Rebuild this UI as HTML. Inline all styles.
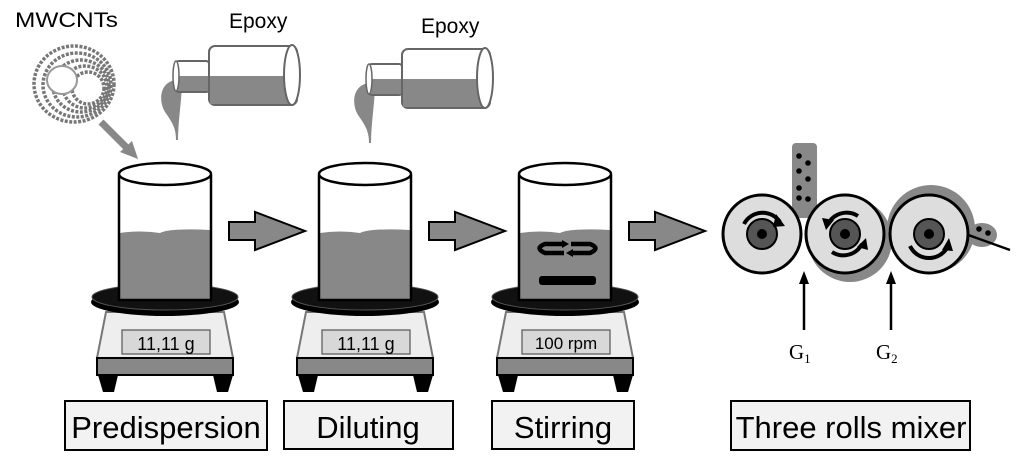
<!DOCTYPE html>
<html><head><meta charset="utf-8"><style>
html,body{margin:0;padding:0;background:#fff;}
svg{display:block;}
.s{font-family:"Liberation Sans","DejaVu Sans",sans-serif;}
.g{font-family:"Liberation Serif","DejaVu Serif",serif;}
</style></head><body>
<svg width="1024" height="463" viewBox="0 0 1024 463" xmlns="http://www.w3.org/2000/svg">
<defs>
<g id="scale">
  <path d="M106,312 L224,312 L233,358 L97,358 Z" fill="#eee" stroke="#777" stroke-width="2"/>
  <rect x="122" y="330" width="88" height="24" fill="#d8d8d8" stroke="#555" stroke-width="1.2"/>
  <rect x="97" y="358" width="136" height="17" fill="#888" stroke="#000" stroke-width="2"/>
  <path d="M98,375 L118,375 L114,392 L103,392 Z" fill="#000"/>
  <path d="M213,375 L233,375 L228,392 L217,392 Z" fill="#000"/>
  <ellipse cx="165" cy="302" rx="74" ry="14" fill="#000"/>
  <ellipse cx="165" cy="297" rx="73" ry="13" fill="#111" stroke="#555" stroke-width="1"/>
</g>
<g id="beaker">
  <path d="M119,175 L119,300 L211,300 L211,175" fill="#fff"/>
  <path d="M120,233 Q140,230 160,233 Q170,228 210,230 L210,300 L120,300 Z" fill="#888"/>
  <path d="M119,175 L119,300 L211,300 L211,175" fill="none" stroke="#000" stroke-width="2.5"/>
  <ellipse cx="165" cy="174" rx="46" ry="11" fill="#fff" stroke="#000" stroke-width="2.5"/>
</g>
<g id="arrow">
  <path d="M229,222 L255,222 L255,212 L305,231 L255,250 L255,240 L229,240 Z" fill="#888" stroke="#000" stroke-width="2"/>
</g>
<g id="bottle">
  <path d="M176,80 C160,82 158,100 165,112 C172,122 176,128 176,140 L178,140 C178,120 182,100 182,80 Z" fill="#888"/>
  <rect x="176" y="61" width="33" height="31" rx="3" fill="#fff" stroke="#666" stroke-width="2"/>
  <rect x="177" y="76" width="31" height="15" fill="#888"/>
  <rect x="209" y="46" width="88" height="59" rx="6" fill="#fff" stroke="#666" stroke-width="2"/>
  <rect x="210" y="76" width="84" height="28" fill="#888"/>
  <ellipse cx="176" cy="76" rx="3" ry="15" fill="#fff" stroke="#666" stroke-width="1.5"/>
  <ellipse cx="292" cy="75" rx="8" ry="30" fill="#fff" stroke="#666" stroke-width="2"/>
</g>
</defs>

<text class="s" x="15" y="27" font-size="21" textLength="103" lengthAdjust="spacingAndGlyphs">MWCNTs</text>
<g fill="none" stroke="#777" stroke-width="3.5" stroke-dasharray="3 1.5">
  <ellipse cx="74" cy="84" rx="40" ry="38"/>
  <ellipse cx="77" cy="85" rx="34" ry="32"/>
  <ellipse cx="81" cy="86" rx="28" ry="26"/>
  <ellipse cx="85" cy="87" rx="22" ry="21"/>
  <ellipse cx="88" cy="88" rx="16" ry="16"/>
</g>
<ellipse cx="62" cy="80" rx="15" ry="14" fill="#fff" stroke="#999" stroke-width="2"/>
<path d="M101,122 L127,148" stroke="#888" stroke-width="7"/>
<path d="M120,152 L138,159 L132,141 Z" fill="#888"/>

<text class="s" x="229" y="28" font-size="21">Epoxy</text>
<use href="#bottle"/>
<text class="s" x="421" y="33" font-size="21">Epoxy</text>
<use href="#bottle" transform="translate(193,3)"/>

<use href="#scale"/><use href="#beaker"/>
<use href="#scale" transform="translate(200,0)"/><use href="#beaker" transform="translate(200,0)"/>
<use href="#scale" transform="translate(400,0)"/><use href="#beaker" transform="translate(400,0)"/>
<use href="#arrow"/>
<use href="#arrow" transform="translate(200,0)"/>
<use href="#arrow" transform="translate(400,0)"/>

<text class="s" x="166" y="350" font-size="18" text-anchor="middle">11,11 g</text>
<text class="s" x="366" y="350" font-size="18" text-anchor="middle">11,11 g</text>
<text class="s" x="566" y="349" font-size="17" text-anchor="middle">100 rpm</text>

<rect x="539" y="276" width="57" height="9" rx="3" fill="#000"/>
<g fill="none" stroke="#000" stroke-width="4.5">
  <path d="M564,244 L545,244 Q534,248 545,253 L564,253"/>
  <path d="M571,244 L590,244 Q601,248 590,253 L571,253"/>
</g>
<path d="M562,240 L569,244 L562,248 Z" fill="#000"/>
<path d="M573,249 L566,253 L573,257 Z" fill="#000"/>

<g fill="#f2f2f2" stroke="#000" stroke-width="2">
  <rect x="65" y="401" width="202" height="49"/>
  <rect x="284" y="401" width="169" height="48"/>
  <rect x="492" y="401" width="142" height="48"/>
  <rect x="731" y="401" width="239" height="49"/>
</g>
<g class="s" font-size="31" text-anchor="middle">
  <text x="166" y="438">Predispersion</text>
  <text x="368" y="438">Diluting</text>
  <text x="563" y="438">Stirring</text>
  <text x="851" y="438">Three rolls mixer</text>
</g>

<rect x="792" y="143" width="25" height="75" rx="4" fill="#888"/>
<g fill="#000">
  <circle cx="799" cy="156" r="2.8"/><circle cx="808" cy="163" r="2.8"/>
  <circle cx="799" cy="171" r="2.8"/><circle cx="808" cy="179" r="2.8"/>
  <circle cx="799" cy="188" r="2.8"/><circle cx="799" cy="198" r="2.8"/><circle cx="808" cy="199" r="2.8"/>
</g>
<circle cx="850" cy="240" r="42" fill="#888"/>
<circle cx="931" cy="229" r="44" fill="#888"/>
<ellipse cx="982" cy="235" rx="15" ry="12" fill="#888"/>
<line x1="960" y1="232" x2="1010" y2="250" stroke="#000" stroke-width="2.5"/>
<circle cx="979" cy="229" r="2.8" fill="#000"/><circle cx="988" cy="233" r="2.8" fill="#000"/>
<g stroke="#000" stroke-width="3" fill="#ddd">
  <circle cx="762" cy="234" r="39"/>
  <circle cx="845" cy="234" r="39"/>
  <circle cx="929" cy="234" r="39"/>
</g>
<g fill="#555" stroke="#000" stroke-width="2">
  <circle cx="762" cy="234" r="15"/><circle cx="845" cy="234" r="15"/><circle cx="929" cy="234" r="15"/>
</g>
<g fill="#000">
  <circle cx="762" cy="234" r="5"/><circle cx="845" cy="234" r="5"/><circle cx="929" cy="234" r="5"/>
</g>
<g fill="none" stroke="#000" stroke-width="4">
  <path d="M744,224 A21,21 0 0 1 780,222"/>
  <path d="M828,224 A21,21 0 0 1 858,216"/>
  <path d="M862,244 A21,21 0 0 1 832,252"/>
  <path d="M910,246 A21,21 0 0 0 948,246"/>
</g>
<g fill="#000">
  <path d="M776,214 L785,226 L773,227 Z"/>
  <path d="M826,230 L822,218 L834,220 Z"/>
  <path d="M866,238 L868,250 L857,247 Z"/>
  <path d="M949,238 L953,251 L942,250 Z"/>
</g>
<g stroke="#000" stroke-width="2.5">
  <line x1="804" y1="330" x2="804" y2="282"/>
  <line x1="891" y1="330" x2="891" y2="282"/>
</g>
<path d="M799,284 L804,271 L809,284 Z" fill="#000"/>
<path d="M886,284 L891,271 L896,284 Z" fill="#000"/>
<g class="g" font-size="21">
  <text x="789" y="359">G<tspan font-size="13" dy="4">1</tspan></text>
  <text x="876" y="359">G<tspan font-size="13" dy="4">2</tspan></text>
</g>
</svg>
</body></html>
